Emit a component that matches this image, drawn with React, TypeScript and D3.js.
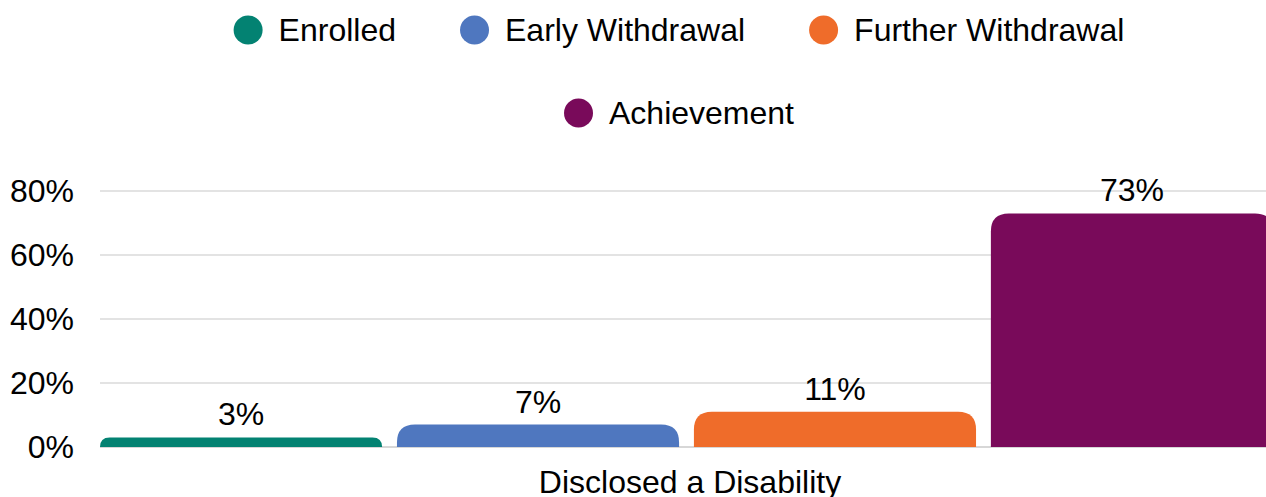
import * as d3 from 'd3';
import React from 'react';

const category = 'Disclosed a Disability';
const seriesNames = ['Enrolled', 'Early Withdrawal', 'Further Withdrawal', 'Achievement'];
const seriesValues = [3, 7, 11, 73];
const seriesColors = ['#038272', '#4f77bf', '#ef6c2a', '#790a5a'];
const yTicks = [0, 20, 40, 60, 80];

const width = 1266;
const height = 497;
const font = "'Liberation Sans', Arial, sans-serif";
const fontSize = 32;

const measure = (() => {
  const ctx = document.createElement('canvas').getContext('2d');
  return (s: string) => {
    if (!ctx) return s.length * fontSize * 0.55;
    ctx.font = `${fontSize}px ${font}`;
    return ctx.measureText(s).width;
  };
})();

// bar with rounded top corners only
const topRounded = (x: number, y: number, w: number, h: number, r0: number) => {
  const r = Math.min(r0, h, w / 2);
  return `M${x},${y + h}V${y + r}Q${x},${y} ${x + r},${y}H${x + w - r}Q${x + w},${y} ${x + w},${y + r}V${y + h}Z`;
};

const App: React.FC = () => {
  const plotLeft = 100;
  const plotRight = 1280;
  const y = d3.scaleLinear().domain([0, 80]).range([447, 191]);
  const x0 = d3.scaleBand().domain([category]).range([plotLeft, plotRight]).padding(0);
  const x1 = d3
    .scaleBand()
    .domain(seriesNames)
    .range([x0(category)!, x0(category)! + x0.bandwidth() - 7])
    .paddingInner(0.05);

  // legend layout: rows centred
  const circleR = 14.5;
  const textGap = 16;
  const itemGap = 64;
  const legendCenter = 679;
  const rows = [
    { items: [0, 1, 2], cy: 30 },
    { items: [3], cy: 113 },
  ];

  return (
    <svg
      width={width}
      height={height}
      style={{ position: 'absolute', left: 0, top: 0, background: 'white' }}
      fontFamily={font}
    >
      <g>
        {rows.map((row, ri) => {
          const widths = row.items.map((i) => circleR * 2 + textGap + measure(seriesNames[i]));
          const total = d3.sum(widths) + itemGap * (row.items.length - 1);
          let cx = legendCenter - total / 2;
          return row.items.map((i, k) => {
            const x = cx;
            cx += widths[k] + itemGap;
            return (
              <g key={`${ri}-${i}`}>
                <circle cx={x + circleR} cy={row.cy} r={circleR} fill={seriesColors[i]} />
                <text
                  x={x + circleR * 2 + textGap}
                  y={row.cy}
                  dy='0.35em'
                  fontSize={fontSize}
                  fill='#000'
                >
                  {seriesNames[i]}
                </text>
              </g>
            );
          });
        })}
      </g>

      <g>
        {yTicks.map((t) => (
          <g key={t}>
            <line
              x1={plotLeft}
              x2={plotRight}
              y1={y(t)}
              y2={y(t)}
              stroke={t === 0 ? '#b0b0b0' : '#c8c8c8'}
              strokeWidth={1.2}
            />
            <text x={74} y={y(t)} dy='0.35em' textAnchor='end' fontSize={fontSize} fill='#000'>
              {`${t}%`}
            </text>
          </g>
        ))}
      </g>

      <g>
        {seriesNames.map((s, i) => {
          const bx = x1(s)!;
          const bw = x1.bandwidth();
          const top = y(seriesValues[i]);
          return (
            <g key={s}>
              <path d={topRounded(bx, top, bw, y(0) - top, 18)} fill={seriesColors[i]} />
              <text
                x={bx + bw / 2}
                y={top - 12}
                textAnchor='middle'
                fontSize={fontSize}
                fill='#000'
              >
                {`${seriesValues[i]}%`}
              </text>
            </g>
          );
        })}
      </g>

      <text
        x={x0(category)! + x0.bandwidth() / 2}
        y={482}
        dy='0.35em'
        textAnchor='middle'
        fontSize={fontSize}
        fill='#000'
      >
        {category}
      </text>
    </svg>
  );
};

export default App;
